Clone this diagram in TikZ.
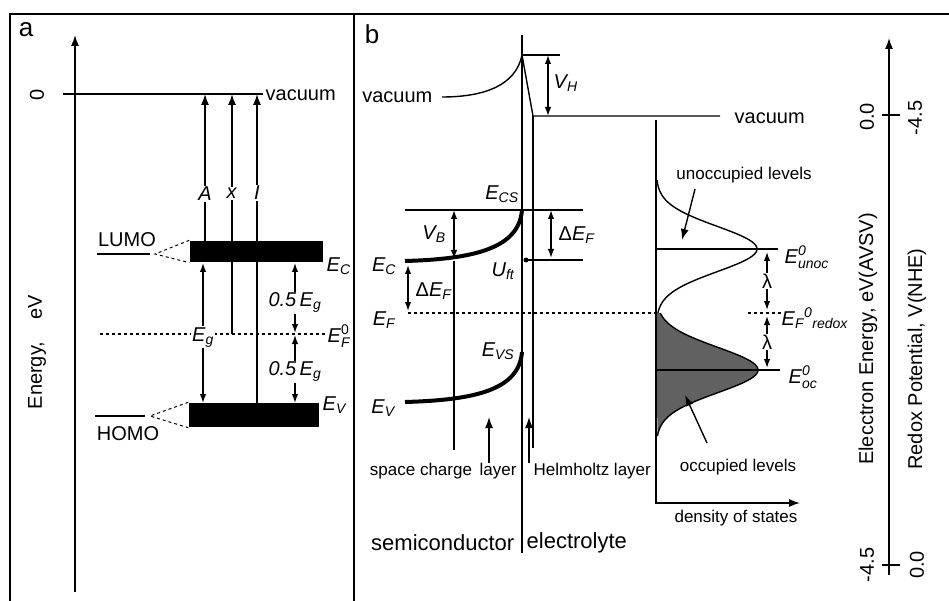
\documentclass[tikz,border=0pt]{standalone}
\usepackage{fontspec}
\setmainfont{Liberation Sans}
\usepackage{amsmath}
\usepackage{tikz}
\usetikzlibrary{arrows.meta}

\newcommand\txtL{\fontsize{20}{24}\selectfont}
\newcommand\txtS{\fontsize{17}{20}\selectfont}
\newcommand\txtH{\fontsize{22}{26}\selectfont}

\begin{document}
\begin{tikzpicture}[x=1pt,y=-1pt,line width=1.4pt,
    lvl/.style={font=\txtL,inner sep=1pt},
    smalltxt/.style={font=\txtS,inner sep=1pt},
    gap/.style={fill=white,inner sep=1pt},
    frame/.style={line width=2.8pt},
    band/.style={line width=4pt},
    bandbox/.style={fill=black,draw=none,inner sep=0pt},
    arr/.style={-{Latex[length=11pt,width=8pt]}},
    dbl/.style={{Latex[length=9pt,width=6.5pt]}-{Latex[length=9pt,width=6.5pt]}},
    occ/.style={fill=black!62}]
    \useasboundingbox (0,0) rectangle (949,601);

    \draw[frame] (10,601) -- (10,14) -- (949,14);
    \draw[frame] (354,14) -- (354,601);

    % panel a
    \node[font=\fontsize{26}{30}\selectfont] (lblA) at (26,30) {a};
    \draw[arr] (75,592) -- (75,35);
    \node[lvl,rotate=90] (zeroA) at (37,95) {0};
    \node[lvl,rotate=90,anchor=west] (energyA) at (37,411) {Energy,\hspace{1.1em}eV};
    \draw (63,94) -- (263,94);
    \node[lvl,anchor=west] (vacA) at (264,95) {vacuum};

    \node[bandbox,minimum width=133pt,minimum height=21pt] (lumoBox) at (256.5,251.5) {};
    \node[bandbox,minimum width=130pt,minimum height=24pt] (homoBox) at (254,415) {};

    \draw[arr] (205,241) -- node[gap,lvl,pos=.32] {\textit{A}} (205,94);
    \draw[arr] (232,334) -- node[gap,lvl,pos=.585] {\textit{x}} (232,94);
    \draw[arr] (257,403) -- node[gap,lvl,pos=.68] {\textit{I}} (257,94);

    \node[lvl] (lumo) at (127,240) {LUMO};
    \coordinate (lumoR) at (155,254);
    \draw (97,254) -- (150,254);
    \draw[dashed,line width=1pt] (lumoBox.north west) -- (lumoR) -- (lumoBox.south west);
    \node[lvl,anchor=west] (ecA) at (325,266) {$\textit{E}_{\textit{C}}$};

    \draw[dashed] (100,334) -- (325,334);
    \node[lvl,anchor=west] (efA) at (326,336) {$\textit{E}^{\text{0}}_{\textit{F}}$};
    \draw[dbl] (203,263) -- node[gap,lvl,pos=.53] {$\textit{E}_{\textit{g}}$} (203,403);
    \draw[dbl] (295,263) -- node[gap,lvl,pos=.57] {\textit{0.5\,E}$_{\textit{g}}$} (295,333);
    \draw[dbl] (295,335) -- node[gap,lvl,pos=.54] {\textit{0.5\,E}$_{\textit{g}}$} (295,403);

    \node[lvl,anchor=west] (evA) at (321,405) {$\textit{E}_{\textit{V}}$};
    \node[lvl] (homo) at (128,434) {HOMO};
    \coordinate (homoR) at (150,416);
    \draw (95,416) -- (145,416);
    \draw[dashed,line width=1pt] (homoBox.north west) -- (homoR) -- (homoBox.south west);

    % panel b
    \node[font=\fontsize{26}{30}\selectfont] (lblB) at (372,34) {b};
    \draw (522,35) -- (522,553);
    \node[lvl,anchor=east] (vacBl) at (434,97) {vacuum};
    \draw (442,97) .. controls (485,97) and (516,85) .. (522,55) -- (533,116) -- (720,116);
    \draw (533,116) -- (533,448);
    \node[lvl,anchor=west] (vacBr) at (733,118) {vacuum};
    \draw (522,55) -- (560,55);
    \draw[dbl] (548,55) -- (548,116);
    \node[lvl,anchor=west] (vh) at (552,83) {$\textit{V}_{\textit{H}}$};

    \draw (405,210) -- (583,210);
    \node[lvl] (ecs) at (502,194) {$\textit{E}_{\textit{CS}}$};
    \draw[band] (405,261) .. controls (475,259) and (519,248) .. (522,210);
    \draw[dbl] (454,210) -- (454,259);
    \node[lvl] (vb) at (434,234) {$\textit{V}_{\textit{B}}$};
    \draw (454,261) -- (454,450);

    \draw (526,260) -- (583,260);
    \fill (526,260) circle (2.5);
    \draw[dbl] (551,210) -- (551,258);
    \node[lvl,anchor=west] (dEfR) at (557,235) {Δ$\textit{E}_{\textit{F}}$};
    \node[lvl] (uft) at (503,271) {$\textit{U}_{\textit{ft}}$};

    \node[lvl] (ecB) at (384,266) {$\textit{E}_{\textit{C}}$};
    \draw[dbl] (408,265) -- (408,311);
    \node[lvl,anchor=west] (dEfL) at (414,291) {Δ$\textit{E}_{\textit{F}}$};
    \node[lvl] (efB) at (384,320) {$\textit{E}_{\textit{F}}$};
    \draw[dashed] (408,313) -- (656,313);
    \draw[dashed] (748,313) -- (781,313);

    \draw[band] (405,402) .. controls (475,400) and (519,390) .. (522,352);
    \node[lvl] (evs) at (498,351) {$\textit{E}_{\textit{VS}}$};
    \node[lvl] (evB) at (383,408) {$\textit{E}_{\textit{V}}$};

    \draw[arr] (489,463) -- (489,417);
    \draw[arr] (529,463) -- (529,417);
    \node[smalltxt] (scl) at (421,471) {space charge};
    \node[smalltxt] (lay) at (498,471) {layer};
    \node[smalltxt,anchor=west] (hel) at (532,471) {Helmholtz layer};
    \node[font=\txtH,inner sep=1pt,anchor=east] (semi) at (516,543) {semiconductor};
    \node[font=\txtH,inner sep=1pt,anchor=west] (elec) at (525,543) {electrolyte};

    % density of states
    \fill[occ] (656,313) -- plot[domain=313:436,samples=80,variable=\yy]
        ({656+102*exp(-((\yy-370)/32)^2)},\yy) -- cycle;
    \draw plot[domain=313:436,samples=80,variable=\yy] ({656+102*exp(-((\yy-370)/32)^2)},\yy);
    \draw plot[domain=180:313,samples=80,variable=\yy] ({656+101*exp(-((\yy-249)/32)^2)},\yy);
    \draw[arr] (656,120) -- (656,503) -- (800,503);
    \node[smalltxt] (dos) at (736,518) {density of states};

    \draw (656,249) -- (778,249);
    \draw (656,370) -- (780,370);
    \draw[dbl] (767,252) -- node[gap,lvl,pos=.5] {λ} (767,310);
    \draw[dbl] (767,316) -- node[gap,lvl,pos=.5] {λ} (767,368);
    \node[lvl,anchor=west] (eun) at (783,257) {$\textit{E}^{\textit{0}}_{\textit{unoc}}$};
    \node[lvl,anchor=west] (efr) at (780,318) {$\textit{E}_{\textit{F}}{}^{\textit{0}}{}_{\textit{redox}}$};
    \node[lvl,anchor=west] (eoc) at (787,377) {$\textit{E}^{\textit{0}}_{\textit{oc}}$};

    \node[smalltxt] (unocc) at (744,175) {unoccupied levels};
    \draw[arr] (695,189) -- (682,240);
    \node[smalltxt] (occl) at (738,467) {occupied levels};
    \draw[arr] (707,443) -- (685,395);

    % right axis
    \draw[arr] (889,575) -- (889,38);
    \draw (882,115) -- (900,115);
    \draw (882,565) -- (900,565);
    \node[lvl,rotate=90] (t1) at (867,117) {0.0};
    \node[lvl,rotate=90] (t2) at (915,118) {-4.5};
    \node[lvl,rotate=90] (t3) at (867,565) {-4.5};
    \node[lvl,rotate=90] (t4) at (917,565) {0.0};
    \node[lvl,rotate=90] (axE) at (868,339) {Elecctron Energy, eV(AVSV)};
    \node[lvl,rotate=90] (axR) at (917,359) {Redox Potential, V(NHE)};
\end{tikzpicture}
\end{document}
